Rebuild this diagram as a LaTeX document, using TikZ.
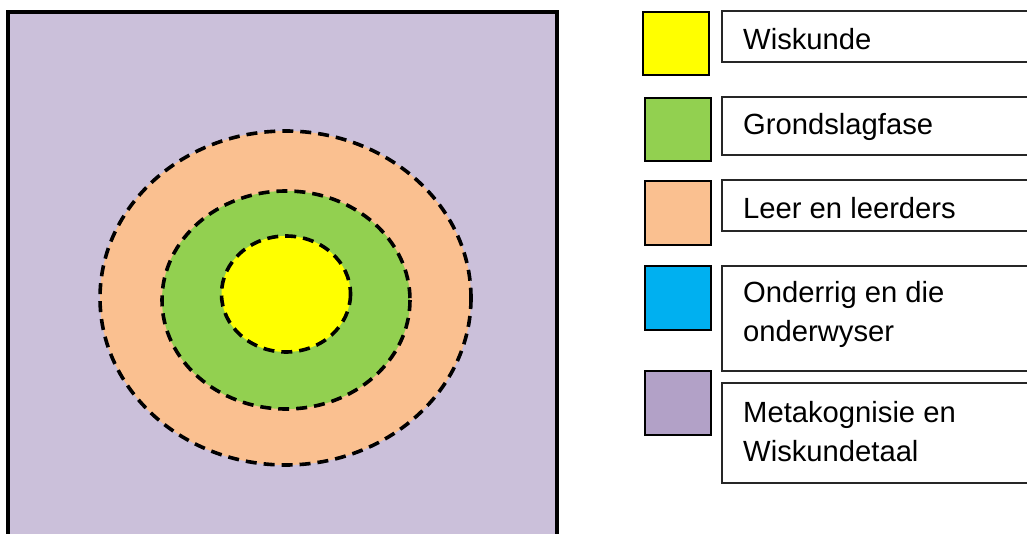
\documentclass[tikz,border=0pt]{standalone}
\usepackage{fontspec}
\setmainfont{Liberation Sans}
\definecolor{bgpurple}{HTML}{CBC0DA}
\definecolor{legpurple}{HTML}{B2A1C7}
\definecolor{ringorange}{HTML}{FAC090}
\definecolor{ringgreen}{HTML}{92D050}
\definecolor{coreyellow}{HTML}{FFFF00}
\definecolor{legblue}{HTML}{00B0F0}
\tikzset{
  ringline/.style={draw=black, line width=3.6pt, dash pattern=on 11pt off 7pt},
  swatch/.style={draw=black, line width=2.5pt},
  labelbox/.style={draw=black!85, line width=1.4pt, fill=white},
  labeltext/.style={anchor=base west, inner sep=0pt, font=\fontsize{29.2}{38}\selectfont}
}
\begin{document}
\begin{tikzpicture}[x=1pt, y=-1pt]
\useasboundingbox (0,0) rectangle (1027,534);
\clip (0,0) rectangle (1027,534);
% main square
\draw[fill=bgpurple, line width=3.5pt] (8,12) rectangle (557,536);
% rings
\fill[ringorange] (285.5,298) ellipse [x radius=185.5, y radius=167];
\draw[ringline] (285.5,298) ellipse [x radius=185.5, y radius=167];
\fill[ringgreen] (286,300) ellipse [x radius=124, y radius=109];
\draw[ringline] (286,300) ellipse [x radius=124, y radius=109];
\fill[coreyellow] (286,294) ellipse [x radius=64.5, y radius=58];
\draw[ringline] (286,294) ellipse [x radius=64.5, y radius=58];
% legend swatches
\draw[swatch, fill=coreyellow] (643,12) rectangle (709,75);
\draw[swatch, fill=ringgreen] (645,98) rectangle (711,161);
\draw[swatch, fill=ringorange] (645,181) rectangle (711,245);
\draw[swatch, fill=legblue] (645,266) rectangle (711,330);
\draw[swatch, fill=legpurple] (645,371) rectangle (711,435);
% legend label boxes
\draw[labelbox] (722,11) rectangle (1040,62);
\draw[labelbox] (722,97) rectangle (1040,155);
\draw[labelbox] (722,180) rectangle (1040,231);
\draw[labelbox] (722,266) rectangle (1040,371);
\draw[labelbox] (722,383) rectangle (1040,483);
% legend texts
\node[labeltext] (t1) at (743,49.5) {Wiskunde};
\node[labeltext] (t2) at (743,135) {Grondslagfase};
\node[labeltext] (t3) at (743,218.5) {Leer en leerders};
\node[labeltext] (t4a) at (743,303) {Onderrig en die};
\node[labeltext] (t4b) at (743,341.5) {onderwyser};
\node[labeltext] (t5a) at (743,422.5) {Metakognisie en};
\node[labeltext] (t5b) at (743,461.5) {Wiskundetaal};
\end{tikzpicture}
\end{document}
